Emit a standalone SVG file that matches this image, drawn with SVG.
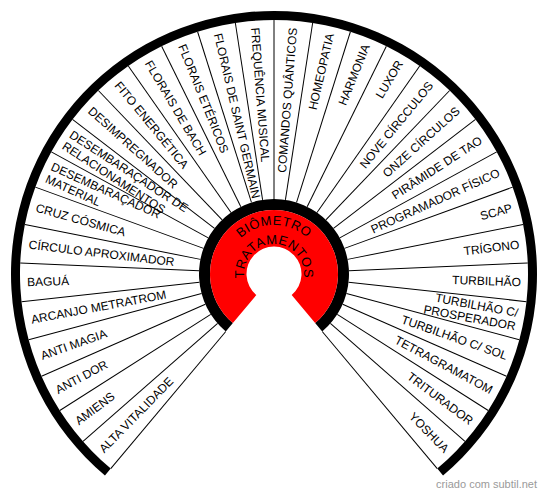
<svg xmlns="http://www.w3.org/2000/svg" xmlns:xlink="http://www.w3.org/1999/xlink" width="550" height="495" viewBox="0 0 550 495">
<style>
text{font-family:"Liberation Sans",Arial,sans-serif;fill:#000}
.lb{font-size:12px}
.l{text-anchor:start}
.r{text-anchor:end}
.sp{stroke:#000;stroke-width:1}
.ct{font-size:13px}
.ca{letter-spacing:0.5px}
.cb{letter-spacing:0.6px}
.wm{font-size:11px;fill:#9a9a9a;text-anchor:end}
</style>
<defs>
<line id="sp" class="sp" x1="349" y1="274" x2="528" y2="274"/>
<path id="arcA" d="M274 323A49 49 0 0 1 225 274A49 49 0 0 1 323 274A49 49 0 0 1 274 323"/>
<path id="arcB" d="M274 304A30 30 0 0 1 244 274A30 30 0 0 1 304 274A30 30 0 0 1 274 304"/>
</defs>
<rect width="550" height="495" fill="#fff"/>
<g id="rim">
<path d="M104.95 475.47A263 263 0 1 1 443.05 475.47L437.27 468.58A254 254 0 1 0 110.73 468.58Z" fill="#000"/>
</g>
<g id="spokes">
<use xlink:href="#sp" transform="rotate(130 274 274)"/>
<use xlink:href="#sp" transform="rotate(138.75 274 274)"/>
<use xlink:href="#sp" transform="rotate(147.5 274 274)"/>
<use xlink:href="#sp" transform="rotate(156.25 274 274)"/>
<use xlink:href="#sp" transform="rotate(165 274 274)"/>
<use xlink:href="#sp" transform="rotate(173.75 274 274)"/>
<use xlink:href="#sp" transform="rotate(182.5 274 274)"/>
<use xlink:href="#sp" transform="rotate(191.25 274 274)"/>
<use xlink:href="#sp" transform="rotate(200 274 274)"/>
<use xlink:href="#sp" transform="rotate(208.75 274 274)"/>
<use xlink:href="#sp" transform="rotate(217.5 274 274)"/>
<use xlink:href="#sp" transform="rotate(226.25 274 274)"/>
<use xlink:href="#sp" transform="rotate(235 274 274)"/>
<use xlink:href="#sp" transform="rotate(243.75 274 274)"/>
<use xlink:href="#sp" transform="rotate(252.5 274 274)"/>
<use xlink:href="#sp" transform="rotate(261.25 274 274)"/>
<use xlink:href="#sp" transform="rotate(270 274 274)"/>
<use xlink:href="#sp" transform="rotate(278.75 274 274)"/>
<use xlink:href="#sp" transform="rotate(287.5 274 274)"/>
<use xlink:href="#sp" transform="rotate(296.25 274 274)"/>
<use xlink:href="#sp" transform="rotate(305 274 274)"/>
<use xlink:href="#sp" transform="rotate(313.75 274 274)"/>
<use xlink:href="#sp" transform="rotate(322.5 274 274)"/>
<use xlink:href="#sp" transform="rotate(331.25 274 274)"/>
<use xlink:href="#sp" transform="rotate(340 274 274)"/>
<use xlink:href="#sp" transform="rotate(348.75 274 274)"/>
<use xlink:href="#sp" transform="rotate(357.5 274 274)"/>
<use xlink:href="#sp" transform="rotate(366.25 274 274)"/>
<use xlink:href="#sp" transform="rotate(375 274 274)"/>
<use xlink:href="#sp" transform="rotate(383.75 274 274)"/>
<use xlink:href="#sp" transform="rotate(392.5 274 274)"/>
<use xlink:href="#sp" transform="rotate(401.25 274 274)"/>
<use xlink:href="#sp" transform="rotate(410 274 274)"/>
</g>
<g id="hub">
<path d="M225.79 331.45A75 75 0 1 1 322.21 331.45L315.14 323.03A64 64 0 1 0 232.86 323.03Z" fill="#000"/>
<path d="M232.86 323.03A64 64 0 1 1 315.14 323.03L291.68 295.07A27.5 27.5 0 1 0 256.32 295.07Z" fill="#ff0000"/>
<text class="ct ca"><textPath xlink:href="#arcA" startOffset="50%" text-anchor="middle">BIÔMETRO</textPath></text>
<text class="ct cb"><textPath xlink:href="#arcB" startOffset="50%" text-anchor="middle">TRATAMENTOS</textPath></text>
</g>
<g class="lb">
<g id="s1"><text class="l" x="27" y="278.2" transform="rotate(-45.625 274 274)">ALTA VITALIDADE</text></g>
<g id="s2"><text class="l" x="27" y="278.2" transform="rotate(-36.875 274 274)">AMIENS</text></g>
<g id="s3"><text class="l" x="27" y="278.2" transform="rotate(-28.125 274 274)">ANTI DOR</text></g>
<g id="s4"><text class="l" x="27" y="278.2" transform="rotate(-19.375 274 274)">ANTI MAGIA</text></g>
<g id="s5"><text class="l" x="27" y="278.2" transform="rotate(-10.625 274 274)">ARCANJO METRATROM</text></g>
<g id="s6"><text class="l" x="27" y="278.2" transform="rotate(-1.875 274 274)">BAGUÁ</text></g>
<g id="s7"><text class="l" x="27" y="278.2" transform="rotate(6.875 274 274)">CÍRCULO APROXIMADOR</text></g>
<g id="s8"><text class="l" x="27" y="278.2" transform="rotate(15.625 274 274)">CRUZ CÓSMICA</text></g>
<g id="s9"><text class="l" transform="rotate(24.375 274 274)"><tspan x="27" y="271.5">DESEMBARAÇADOR</tspan><tspan x="27" y="285">MATERIAL</tspan></text></g>
<g id="s10"><text class="l" transform="rotate(33.125 274 274)"><tspan x="27" y="271.5">DESEMBARAÇADOR DE</tspan><tspan x="27" y="285">RELACIONAMENTOS</tspan></text></g>
<g id="s11"><text class="l" x="27" y="278.2" transform="rotate(41.875 274 274)">DESIMPREGNADOR</text></g>
<g id="s12"><text class="l" x="27" y="278.2" transform="rotate(50.625 274 274)">FITO ENERGÉTICA</text></g>
<g id="s13"><text class="l" x="27" y="278.2" transform="rotate(59.375 274 274)">FLORAIS DE BACH</text></g>
<g id="s14"><text class="l" x="27" y="278.2" transform="rotate(68.125 274 274)">FLORAIS ETÉRICOS</text></g>
<g id="s15"><text class="l" x="27" y="278.2" transform="rotate(76.875 274 274)">FLORAIS DE SAINT GERMAIN</text></g>
<g id="s16"><text class="l" x="27" y="278.2" transform="rotate(85.625 274 274)">FREQUÊNCIA MUSICAL</text></g>
<g id="s17"><text class="r" x="521" y="278.2" transform="rotate(-85.625 274 274)">COMANDOS QUÂNTICOS</text></g>
<g id="s18"><text class="r" x="521" y="278.2" transform="rotate(-76.875 274 274)">HOMEOPATIA</text></g>
<g id="s19"><text class="r" x="521" y="278.2" transform="rotate(-68.125 274 274)">HARMONIA</text></g>
<g id="s20"><text class="r" x="521" y="278.2" transform="rotate(-59.375 274 274)">LUXOR</text></g>
<g id="s21"><text class="r" x="521" y="278.2" transform="rotate(-50.625 274 274)">NOVE CÍRCCULOS</text></g>
<g id="s22"><text class="r" x="521" y="278.2" transform="rotate(-41.875 274 274)">ONZE CÍRCULOS</text></g>
<g id="s23"><text class="r" x="521" y="278.2" transform="rotate(-33.125 274 274)">PIRÂMIDE DE TAO</text></g>
<g id="s24"><text class="r" x="521" y="278.2" transform="rotate(-24.375 274 274)">PROGRAMADOR FÍSICO</text></g>
<g id="s25"><text class="r" x="521" y="278.2" transform="rotate(-15.625 274 274)">SCAP</text></g>
<g id="s26"><text class="r" x="521" y="278.2" transform="rotate(-6.875 274 274)">TRÍGONO</text></g>
<g id="s27"><text class="r" x="521" y="278.2" transform="rotate(1.875 274 274)">TURBILHÃO</text></g>
<g id="s28"><text class="r" transform="rotate(10.625 274 274)"><tspan x="521" y="271.5">TURBILHÃO C/</tspan><tspan x="521" y="285">PROSPERADOR</tspan></text></g>
<g id="s29"><text class="r" x="521" y="278.2" transform="rotate(19.375 274 274)">TURBILHÃO C/ SOL</text></g>
<g id="s30"><text class="r" x="521" y="278.2" transform="rotate(28.125 274 274)">TETRAGRAMATOM</text></g>
<g id="s31"><text class="r" x="521" y="278.2" transform="rotate(36.875 274 274)">TRITURADOR</text></g>
<g id="s32"><text class="r" x="521" y="278.2" transform="rotate(45.625 274 274)">YOSHUA</text></g>
</g>
<text class="wm" x="537" y="488">criado com subtil.net</text>
</svg>
